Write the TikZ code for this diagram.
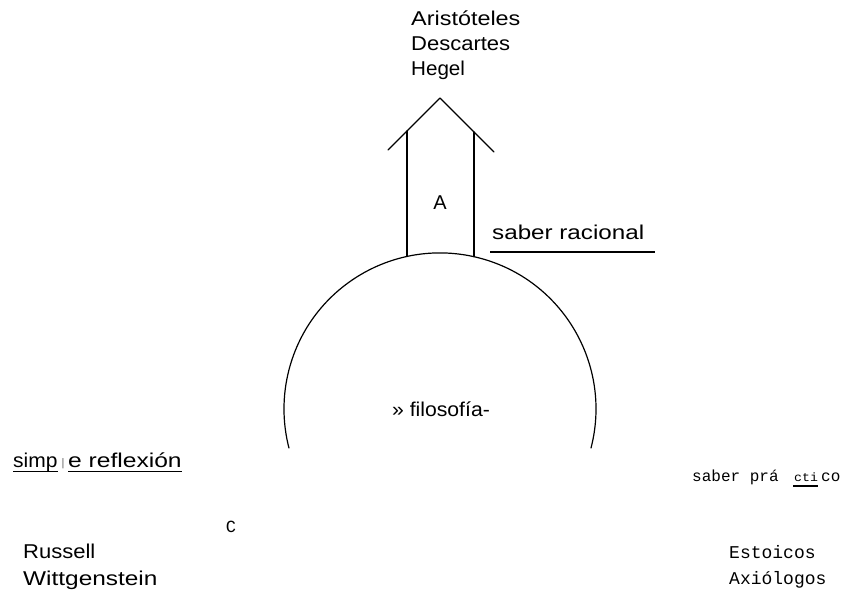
\documentclass[tikz,border=0pt]{standalone}
\usepackage{fontspec}
\usepackage{graphicx}
\setmainfont{Liberation Sans}
\newfontfamily\monof{Liberation Mono}
\newcommand\sx[2]{\scalebox{#1}[1]{#2}}
\begin{document}
\begin{tikzpicture}[x=1pt,y=1pt,
  txt/.style={inner sep=0pt, anchor=base west},
  ink/.style={line width=1.2pt, line cap=round, line join=round},
  sansA/.style={font=\fontsize{20}{20}\selectfont},
  monoA/.style={font=\monof\fontsize{16}{16}\selectfont}]
\useasboundingbox (0,0) rectangle (842,591);
% circle arc
\coordinate (cc) at (440,182);
\coordinate (arcR) at (591,143);
\draw[ink] (arcR) arc[start angle=-14.5, end angle=194.5, radius=156];
% arrow
\coordinate (tip) at (440,493);
\coordinate (wl) at (388,441);
\coordinate (wr) at (494,439);
\coordinate (lt) at (407,460);
\coordinate (lb) at (407,334.5);
\coordinate (rt) at (474,459);
\coordinate (rb) at (474,334.3);
\draw[ink] (wl) -- (tip) -- (wr);
\draw[ink] (lt) -- (lb);
\draw[ink] (rt) -- (rb);
% philosophers top
\node[txt,sansA] (ari) at (411,565) {\sx{1.17}{Aristóteles}};
\node[txt,sansA] (des) at (411,540) {\sx{1.1}{Descartes}};
\node[txt,sansA] (heg) at (411,515) {\sx{1.03}{Hegel}};
\node[inner sep=0pt,font=\fontsize{20}{20}\selectfont] (A) at (440,388) {A};
% saber racional
\node[txt,sansA] (sr) at (492,351) {\sx{1.21}{saber racional}};
\coordinate (srl) at (490,339);
\coordinate (srr) at (655,339);
\draw[line width=1.1pt] (srl) -- (srr);
% filosofia
\node[inner sep=0pt,anchor=base,font=\fontsize{20}{20}\selectfont] (fil) at (441,174) {\sx{1.06}{» filosofía-}};
% simple reflexion
\node[txt,sansA] (simp) at (13,123) {\sx{1.05}{simp}};
\node[inner sep=0pt,anchor=base,font=\fontsize{11}{11}\selectfont,text=black!60] (bar) at (63,124) {|};
\node[txt,sansA] (refl) at (68,123) {\sx{1.23}{e reflexión}};
\coordinate (u1a) at (13,119); \coordinate (u1b) at (58,119);
\coordinate (u2a) at (68,119); \coordinate (u2b) at (182,119);
\draw[line width=1pt] (u1a) -- (u1b);
\draw[line width=1pt] (u2a) -- (u2b);
% saber practico
\node[txt,monoA] (sp) at (692,109) {saber prá};
\node[txt,font=\monof\fontsize{12}{12}\selectfont] (cti) at (794,109) {\sx{1.1}{cti}};
\node[txt,monoA] (co) at (821,109) {co};
\coordinate (cua) at (793,105); \coordinate (cub) at (818,105);
\draw[line width=1.3pt] (cua) -- (cub);
% C
\node[inner sep=0pt,font=\monof\fontsize{17}{17}\selectfont] (C) at (231,64) {C};
% bottom left
\node[txt,sansA] (rus) at (23,33) {\sx{1.1}{Russell}};
\node[txt,sansA] (wit) at (23,6) {\sx{1.22}{Wittgenstein}};
% bottom right
\node[txt,font=\monof\fontsize{18}{18}\selectfont] (est) at (729,33) {Estoicos};
\node[txt,font=\monof\fontsize{18}{18}\selectfont] (axi) at (729,7) {Axiólogos};
\end{tikzpicture}
\end{document}
